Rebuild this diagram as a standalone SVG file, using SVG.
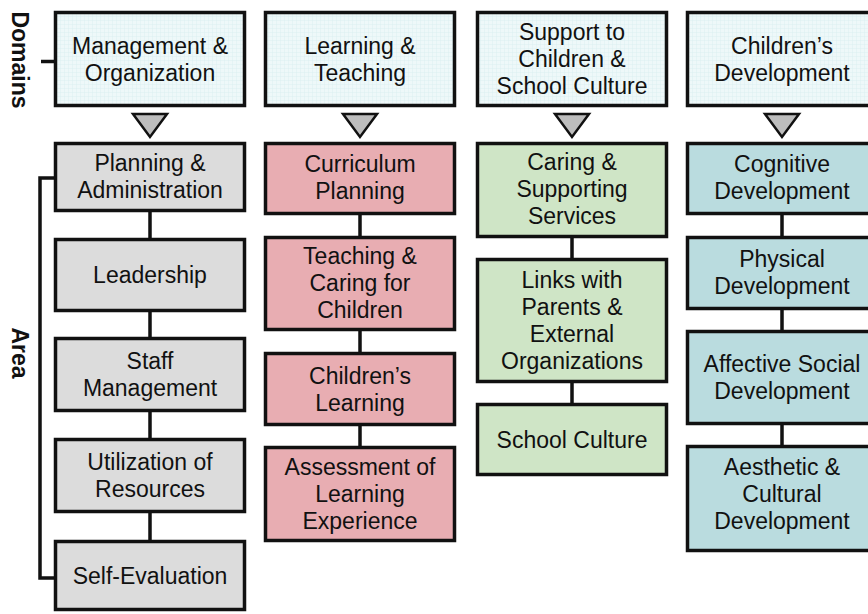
<svg xmlns="http://www.w3.org/2000/svg" width="868" height="614" viewBox="0 0 868 614">
<defs>
<pattern id="grid" width="4" height="4" patternUnits="userSpaceOnUse">
<rect width="4" height="4" fill="#eef8f9"/>
<path d="M0 0.25H4M0.25 0V4" stroke="#d6ecee" stroke-width="0.5" fill="none"/>
</pattern>
<style>
.box{stroke:#111;stroke-width:3.5}
.dom{fill:url(#grid)}
.g{fill:#dcdcdc}
.p{fill:#e8adb2}
.gr{fill:#cfe5c6}
.b{fill:#badcdf}
text{font-family:"Liberation Sans",Arial,sans-serif;font-size:23px;fill:#111;text-anchor:middle}
.lab{font-weight:bold}
.tri{fill:#bdbdbd;stroke:#111;stroke-width:2.5;stroke-linejoin:miter}
.ln{stroke:#111;stroke-width:3.5;fill:none}
</style>
</defs>
<rect width="868" height="614" fill="#fff"/>

<g id="connectors">
<path class="ln" d="M41 61.5H55"/>
<path class="ln" d="M55 178H40V578H55"/>
<path class="ln" d="M150 212V238M150 312V337M150 412V438M150 513V540"/>
<path class="ln" d="M360 215V236M360 331V352M360 426V446"/>
<path class="ln" d="M572 238V258M572 383V403"/>
<path class="ln" d="M782 215V236M782 310V330M782 425V445"/>
<polygon class="tri" points="133,114 167,114 150,137"/>
<polygon class="tri" points="343,114 377,114 360,137"/>
<polygon class="tri" points="555,114 589,114 572,137"/>
<polygon class="tri" points="765,114 799,114 782,137"/>
</g>

<g id="label-domains"><text class="lab" transform="translate(12,60) rotate(90)">Domains</text></g>
<g id="label-area"><text class="lab" transform="translate(12,353) rotate(90)">Area</text></g>

<g id="d1"><rect class="box dom" x="55.5" y="12.5" width="189" height="93"/>
<text x="150" y="54">Management &amp;</text><text x="150" y="81">Organization</text></g>
<g id="d2"><rect class="box dom" x="265.5" y="12.5" width="189" height="93"/>
<text x="360" y="54">Learning &amp;</text><text x="360" y="81">Teaching</text></g>
<g id="d3"><rect class="box dom" x="477.5" y="12.5" width="189" height="93"/>
<text x="572" y="40">Support to</text><text x="572" y="67">Children &amp;</text><text x="572" y="94">School Culture</text></g>
<g id="d4"><rect class="box dom" x="687.5" y="12.5" width="189" height="93"/>
<text x="782" y="54">Children’s</text><text x="782" y="81">Development</text></g>

<g id="a1"><rect class="box g" x="55.5" y="143.5" width="189" height="67"/>
<text x="150" y="171">Planning &amp;</text><text x="150" y="198">Administration</text></g>
<g id="a2"><rect class="box g" x="55.5" y="239.5" width="189" height="71"/>
<text x="150" y="283">Leadership</text></g>
<g id="a3"><rect class="box g" x="55.5" y="338.5" width="189" height="72"/>
<text x="150" y="369">Staff</text><text x="150" y="396">Management</text></g>
<g id="a4"><rect class="box g" x="55.5" y="439.5" width="189" height="72"/>
<text x="150" y="470">Utilization of</text><text x="150" y="497">Resources</text></g>
<g id="a5"><rect class="box g" x="55.5" y="541.5" width="189" height="68"/>
<text x="150" y="584">Self-Evaluation</text></g>

<g id="b1"><rect class="box p" x="265.5" y="143.5" width="189" height="70"/>
<text x="360" y="172">Curriculum</text><text x="360" y="199">Planning</text></g>
<g id="b2"><rect class="box p" x="265.5" y="237.5" width="189" height="92"/>
<text x="360" y="264">Teaching &amp;</text><text x="360" y="291">Caring for</text><text x="360" y="318">Children</text></g>
<g id="b3"><rect class="box p" x="265.5" y="353.5" width="189" height="71"/>
<text x="360" y="384">Children’s</text><text x="360" y="411">Learning</text></g>
<g id="b4"><rect class="box p" x="265.5" y="447.5" width="189" height="93"/>
<text x="360" y="475">Assessment of</text><text x="360" y="502">Learning</text><text x="360" y="529">Experience</text></g>

<g id="c1"><rect class="box gr" x="477.5" y="143.5" width="189" height="93"/>
<text x="572" y="170">Caring &amp;</text><text x="572" y="197">Supporting</text><text x="572" y="224">Services</text></g>
<g id="c2"><rect class="box gr" x="477.5" y="259.5" width="189" height="122"/>
<text x="572" y="288">Links with</text><text x="572" y="315">Parents &amp;</text><text x="572" y="342">External</text><text x="572" y="369">Organizations</text></g>
<g id="c3"><rect class="box gr" x="477.5" y="404.5" width="189" height="70"/>
<text x="572" y="448">School Culture</text></g>

<g id="e1"><rect class="box b" x="687.5" y="143.5" width="189" height="70"/>
<text x="782" y="172">Cognitive</text><text x="782" y="199">Development</text></g>
<g id="e2"><rect class="box b" x="687.5" y="237.5" width="189" height="71"/>
<text x="782" y="267">Physical</text><text x="782" y="294">Development</text></g>
<g id="e3"><rect class="box b" x="687.5" y="331.5" width="189" height="92"/>
<text x="782" y="372">Affective Social</text><text x="782" y="399">Development</text></g>
<g id="e4"><rect class="box b" x="687.5" y="446.5" width="189" height="104"/>
<text x="782" y="475">Aesthetic &amp;</text><text x="782" y="502">Cultural</text><text x="782" y="529">Development</text></g>
</svg>
